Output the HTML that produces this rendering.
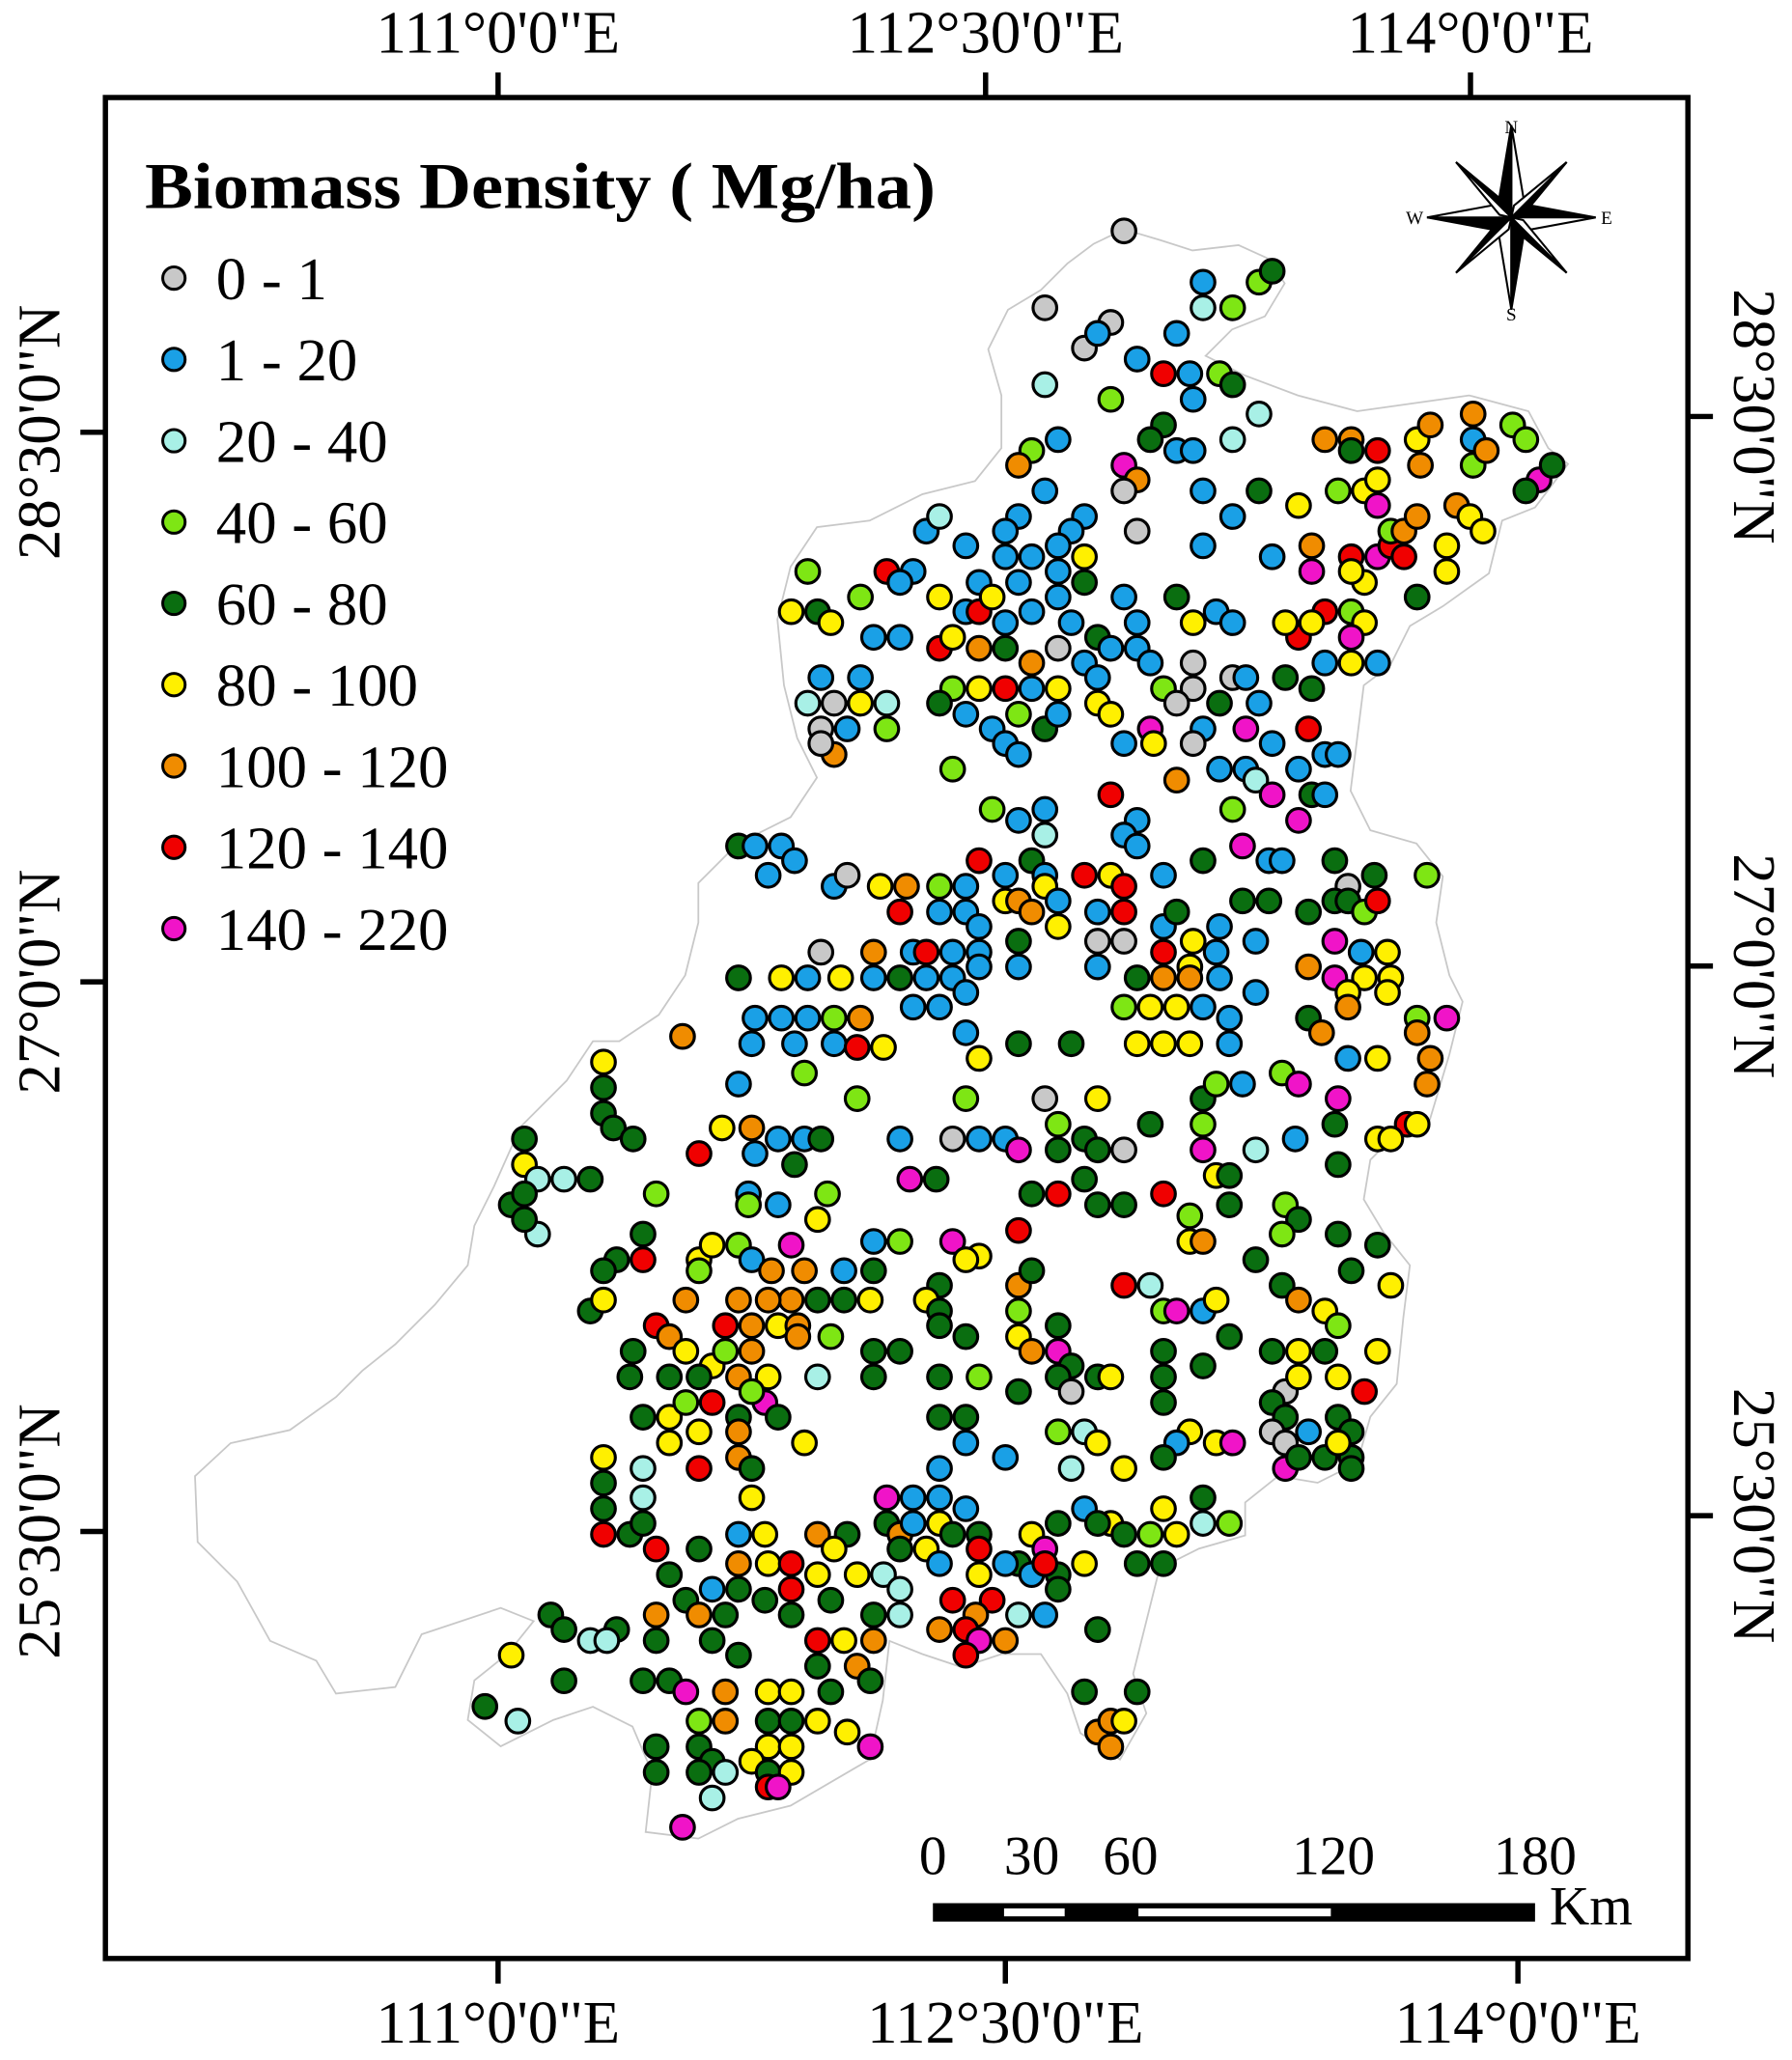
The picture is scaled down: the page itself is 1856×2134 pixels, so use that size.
<!DOCTYPE html>
<html><head><meta charset="utf-8"><style>
html,body{margin:0;padding:0;background:#fff;}
svg{display:block;}
svg text{font-family:"Liberation Serif","Times New Roman",serif;}
</style></head><body>
<svg id="map" width="1856" height="2134" viewBox="0 0 1360 1563" preserveAspectRatio="none" xmlns="http://www.w3.org/2000/svg">
<rect width="1360" height="1563" fill="#fff"/>
<path fill="none" stroke="#c8c8c8" stroke-width="1.3" d="M853,174 L880,182 L905,190 L940,186 L962,196 L975,215 L960,240 L935,250 L915,270 L945,285 L985,300 L1030,312 L1080,305 L1115,300 L1160,312 L1175,340 L1190,352 L1165,385 L1140,395 L1130,435 L1095,460 L1070,475 L1055,505 L1035,520 L1030,560 L1025,600 L1040,630 L1075,640 L1095,665 L1090,700 L1100,740 L1110,760 L1100,800 L1085,850 L1060,860 L1040,880 L1035,910 L1050,935 L1070,960 L1065,1000 L1060,1050 L1040,1075 L1030,1110 L1000,1125 L970,1120 L945,1140 L945,1165 L910,1175 L880,1190 L870,1230 L860,1270 L870,1300 L850,1335 L820,1315 L810,1285 L790,1255 L760,1255 L730,1265 L700,1255 L675,1245 L670,1290 L660,1335 L600,1370 L560,1380 L530,1395 L490,1390 L495,1345 L480,1310 L450,1295 L420,1305 L380,1325 L355,1305 L360,1275 L385,1255 L405,1230 L380,1220 L320,1240 L300,1280 L255,1285 L240,1260 L205,1245 L180,1200 L150,1170 L148,1120 L175,1095 L220,1085 L255,1060 L275,1040 L300,1020 L330,990 L355,960 L360,930 L375,900 L395,855 L430,820 L450,790 L470,790 L500,770 L520,740 L530,700 L530,670 L560,640 L600,620 L620,590 L605,560 L595,520 L590,470 L600,430 L620,400 L660,395 L700,375 L740,365 L760,340 L760,300 L750,265 L765,235 L790,220 L810,200 L830,185 Z"/>
<g id="dots"></g>
<rect x="80" y="74" width="1201" height="1412" fill="none" stroke="#000" stroke-width="4"/>
<g stroke="#000" stroke-width="4">
<line x1="378" y1="55" x2="378" y2="74"/><line x1="748" y1="55" x2="748" y2="74"/><line x1="1116" y1="55" x2="1116" y2="74"/>
<line x1="378" y1="1486" x2="378" y2="1505"/><line x1="763" y1="1486" x2="763" y2="1505"/><line x1="1152" y1="1486" x2="1152" y2="1505"/>
<line x1="61" y1="328" x2="80" y2="328"/><line x1="61" y1="745" x2="80" y2="745"/><line x1="61" y1="1162" x2="80" y2="1162"/>
<line x1="1281" y1="316" x2="1300" y2="316"/><line x1="1281" y1="733" x2="1300" y2="733"/><line x1="1281" y1="1150" x2="1300" y2="1150"/>
</g>
<g font-size="46" fill="#000">
<text x="378" y="40" text-anchor="middle">111°0'0"E</text>
<text x="748" y="40" text-anchor="middle">112°30'0"E</text>
<text x="1116" y="40" text-anchor="middle">114°0'0"E</text>
<text x="378" y="1550" text-anchor="middle">111°0'0"E</text>
<text x="763" y="1550" text-anchor="middle">112°30'0"E</text>
<text x="1152" y="1550" text-anchor="middle">114°0'0"E</text>
<text transform="translate(45,328) rotate(-90)" text-anchor="middle">28°30'0"N</text>
<text transform="translate(45,745) rotate(-90)" text-anchor="middle">27°0'0"N</text>
<text transform="translate(45,1162) rotate(-90)" text-anchor="middle">25°30'0"N</text>
<text transform="translate(1316,316) rotate(90)" text-anchor="middle">28°30'0"N</text>
<text transform="translate(1316,733) rotate(90)" text-anchor="middle">27°0'0"N</text>
<text transform="translate(1316,1150) rotate(90)" text-anchor="middle">25°30'0"N</text>
</g>
<text x="110" y="158" font-size="50" font-weight="bold" textLength="600" lengthAdjust="spacingAndGlyphs">Biomass Density ( Mg/ha)</text>
<g id="legend"></g>
<g transform="translate(1147,165)">
<g stroke="#000" stroke-width="1.5">
<polygon points="0,-70 10,-10 0,0" fill="#fff"/><polygon points="0,-70 -10,-10 0,0" fill="#000"/>
<polygon points="0,70 -10,10 0,0" fill="#fff"/><polygon points="0,70 10,10 0,0" fill="#000"/>
<polygon points="64,0 10,-10 0,0" fill="#000"/><polygon points="64,0 10,10 0,0" fill="#fff"/>
<polygon points="-64,0 -10,10 0,0" fill="#000"/><polygon points="-64,0 -10,-10 0,0" fill="#fff"/>
<polygon points="42,-42 9,-2 0,0" fill="#000"/><polygon points="42,-42 2,-9 0,0" fill="#fff"/>
<polygon points="-42,-42 -2,-9 0,0" fill="#000"/><polygon points="-42,-42 -9,-2 0,0" fill="#fff"/>
<polygon points="42,42 2,9 0,0" fill="#000"/><polygon points="42,42 9,2 0,0" fill="#fff"/>
<polygon points="-42,42 -9,2 0,0" fill="#000"/><polygon points="-42,42 -2,9 0,0" fill="#fff"/>
</g>
<text x="0" y="-64" font-size="14" text-anchor="middle">N</text>
<text x="0" y="78" font-size="14" text-anchor="middle">S</text>
<text x="68" y="5" font-size="14">E</text>
<text x="-80" y="5" font-size="14">W</text>
</g>
<g>
<rect x="708" y="1444" width="457" height="14" fill="#000"/>
<rect x="762" y="1448" width="46" height="6" fill="#fff"/>
<rect x="864" y="1448" width="146" height="6" fill="#fff"/>
<g font-size="42" text-anchor="middle">
<text x="708" y="1422">0</text><text x="783" y="1422">30</text><text x="858" y="1422">60</text><text x="1012" y="1422">120</text><text x="1165" y="1422">180</text>
</g>
<text x="1176" y="1460" font-size="42">Km</text>
</g>
</svg>
<script>
const classLabels=["0 - 1","1 - 20","20 - 40","40 - 60","60 - 80","80 - 100","100 - 120","120 - 140","140 - 220"];
const classColors=["#c8c8c8","#1aa0e6","#a8f0e6","#7ee614","#0a6e10","#fff000","#f08c00","#f00000","#f014c8"];
const lonTicks=[111,112.5,114];
const latTicks=[28.5,27,25.5];
// [lon, lat, biomass class]
const sites=[
[112.90,29.05,0],[112.66,28.84,0],[112.86,28.80,0],[112.78,28.73,0],[113.14,28.91,1],[113.31,28.91,3],[113.35,28.94,4],[113.14,28.84,2],[113.23,28.84,3],[112.82,28.77,1],
[112.94,28.70,1],[113.06,28.77,1],[113.02,28.66,7],[113.10,28.66,1],[113.19,28.66,3],[113.23,28.63,4],[112.66,28.63,2],[112.86,28.59,3],[113.11,28.59,1],[113.31,28.55,2],
[112.70,28.48,1],[112.62,28.45,3],[112.58,28.41,6],[113.02,28.52,4],[112.98,28.48,4],[113.06,28.45,1],[113.11,28.45,1],[113.23,28.48,2],[112.90,28.41,8],[112.94,28.37,6],
[112.90,28.34,0],[113.31,28.34,4],[113.14,28.34,1],[113.23,28.27,1],[113.14,28.19,1],[113.35,28.16,1],[112.94,28.23,0],
[112.66,28.34,1],[112.78,28.27,1],[112.74,28.23,1],[112.58,28.27,1],[112.54,28.23,1],[112.42,28.19,1],[112.30,28.23,1],[112.34,28.27,2],
[112.54,28.16,1],[112.62,28.16,1],[112.70,28.19,1],[112.78,28.16,5],[112.46,28.09,1],[112.58,28.09,1],[112.70,28.12,1],[112.78,28.09,4],
[112.26,28.12,1],[112.18,28.12,7],[112.22,28.09,1],[112.10,28.05,3],[111.94,28.12,3],[111.89,28.01,5],[111.97,28.01,4],[112.01,27.98,5],
[112.14,27.94,1],[112.22,27.94,1],[112.34,28.05,5],[112.42,28.01,1],[112.46,28.01,7],[112.50,28.05,5],[112.54,27.98,1],[112.62,28.01,1],[112.70,28.05,1],[112.74,27.98,1],[112.82,27.94,4],[112.90,28.05,1],[112.94,27.98,1],[113.06,28.05,4],[113.11,27.98,5],[113.18,28.01,1],[113.23,27.98,1],
[112.34,27.91,7],[112.38,27.94,5],[112.46,27.91,6],[112.54,27.91,4],[112.62,27.87,6],[112.70,27.91,0],[112.78,27.87,1],[112.86,27.91,1],[112.94,27.91,1],[112.98,27.87,1],
[112.38,27.80,3],[112.46,27.80,5],[112.54,27.80,7],[112.62,27.80,1],[112.70,27.80,5],[112.82,27.83,1],[113.02,27.80,3],[113.11,27.87,0],[113.11,27.80,0],[113.23,27.83,0],[113.27,27.83,1],[113.39,27.83,4],
[111.98,27.83,1],[112.10,27.83,1],[111.94,27.76,2],[112.02,27.76,0],[112.10,27.76,5],[112.18,27.76,2],[112.06,27.69,1],[111.98,27.69,0],[112.18,27.69,3],[112.02,27.62,6],[111.98,27.65,0],
[112.34,27.76,4],[112.42,27.73,1],[112.50,27.69,1],[112.58,27.73,3],[112.66,27.69,4],[112.70,27.73,1],[112.82,27.76,5],[112.86,27.73,5],[112.98,27.69,8],[113.06,27.76,0],[113.14,27.69,1],[113.19,27.76,4],[113.27,27.69,8],[113.31,27.76,1],[113.35,27.65,1],[113.46,27.69,7],
[112.38,27.58,3],[112.54,27.65,1],[112.58,27.62,1],[112.90,27.65,1],[112.99,27.65,5],[113.11,27.65,0],[113.19,27.58,1],[113.27,27.58,1],[113.43,27.58,1],[113.51,27.62,1],[113.55,27.62,1],
[113.06,27.55,6],[112.86,27.51,7],[113.30,27.55,2],[113.35,27.51,8],[113.23,27.47,3],[113.47,27.51,4],[113.51,27.51,1],[113.43,27.44,8],[112.50,27.47,3],[112.58,27.44,1],[112.66,27.47,1],[112.66,27.40,2],[112.94,27.44,1],[112.90,27.40,1],[112.94,27.37,1],
[113.51,28.48,6],[113.59,28.48,6],[113.59,28.45,4],[113.67,28.45,7],[113.79,28.48,5],[113.83,28.52,6],[113.96,28.55,6],[113.96,28.48,1],[114.08,28.52,3],[114.12,28.48,3],
[113.80,28.41,6],[113.96,28.41,3],[114.00,28.45,6],[114.16,28.37,8],[114.20,28.41,4],[114.12,28.34,4],[113.55,28.34,3],[113.63,28.34,5],[113.67,28.37,5],[113.67,28.30,8],
[113.43,28.30,5],[113.47,28.19,6],[113.47,28.12,8],[113.59,28.16,7],[113.67,28.16,8],[113.71,28.19,7],[113.75,28.16,7],[113.71,28.23,3],[113.75,28.23,6],[113.79,28.27,6],
[113.91,28.30,6],[113.95,28.27,5],[113.99,28.23,5],[113.88,28.19,5],[113.88,28.12,5],[113.79,28.05,4],[113.63,28.09,5],[113.59,28.01,3],[113.63,27.98,5],[113.51,28.01,7],
[113.59,27.94,8],[113.67,27.87,1],[113.43,27.94,7],[113.39,27.98,5],[113.47,27.98,5],[113.59,27.87,5],[113.51,27.87,1],[113.47,27.80,4],[113.59,28.12,5],
[111.73,27.37,4],[111.78,27.37,1],[111.86,27.37,1],[111.82,27.29,1],[111.90,27.33,1],[112.02,27.26,1],[112.06,27.29,0],[111.98,27.08,0],
[112.16,27.26,5],[112.24,27.26,6],[112.34,27.26,3],[112.42,27.26,1],[112.46,27.33,7],[112.54,27.29,1],[112.62,27.33,4],[112.66,27.29,1],[112.66,27.26,5],[112.78,27.29,7],[112.86,27.29,5],[112.90,27.26,7],[113.02,27.29,1],[113.14,27.33,4],[113.26,27.37,8],[113.34,27.33,1],[113.38,27.33,1],[113.54,27.33,4],[113.58,27.26,0],[113.66,27.29,4],[113.82,27.29,3],
[112.22,27.19,7],[112.34,27.19,1],[112.42,27.19,1],[112.46,27.15,1],[112.54,27.22,5],[112.58,27.22,6],[112.62,27.19,6],[112.70,27.22,1],[112.82,27.19,1],[112.90,27.19,7],[113.02,27.15,1],[113.06,27.19,4],[113.11,27.11,5],[113.19,27.15,1],[113.26,27.22,4],[113.34,27.22,4],[113.46,27.19,4],[113.54,27.22,4],[113.58,27.22,4],[113.63,27.19,3],[113.67,27.22,7],
[112.14,27.08,6],[112.26,27.08,1],[112.30,27.08,7],[112.38,27.08,1],[112.46,27.08,1],[112.58,27.11,4],[112.70,27.15,5],[112.82,27.11,0],[112.90,27.11,0],[113.02,27.08,7],[113.10,27.04,5],[113.18,27.08,1],[113.30,27.11,1],[113.54,27.11,8],[113.62,27.08,1],[113.70,27.08,5],
[111.73,27.01,4],[111.86,27.01,5],[111.94,27.01,1],[112.04,27.01,5],[112.14,27.01,1],[112.22,27.01,4],[112.30,27.01,1],[112.38,27.01,1],[112.46,27.04,1],[112.58,27.04,1],[112.82,27.04,1],[112.94,27.01,4],[113.02,27.01,6],[113.10,27.01,6],[113.19,27.01,1],[113.46,27.04,6],[113.54,27.01,8],[113.63,27.01,5],[113.71,27.01,5],
[112.34,26.93,1],[112.42,26.97,1],[112.26,26.93,1],[111.78,26.90,1],[111.86,26.90,1],[111.94,26.90,1],[112.02,26.90,3],[112.10,26.90,6],[112.90,26.93,3],[112.98,26.93,5],[113.06,26.93,5],[113.14,26.93,1],[113.22,26.90,1],[113.30,26.97,1],[113.46,26.90,4],[113.58,26.97,5],[113.58,26.93,6],[113.70,26.97,5],[113.79,26.90,3],[113.88,26.90,8],
[111.56,26.85,6],[111.77,26.83,1],[111.90,26.83,1],[112.02,26.83,1],[112.09,26.82,7],[112.17,26.82,5],[112.42,26.86,1],[112.46,26.79,5],[112.58,26.83,4],[112.74,26.83,4],[112.94,26.83,5],[113.02,26.83,5],[113.10,26.83,5],[113.22,26.83,1],[113.50,26.86,6],[113.58,26.79,1],[113.67,26.79,5],[113.79,26.86,6],[113.83,26.79,6],
[111.32,26.78,5],[111.32,26.71,4],[111.73,26.72,1],[111.93,26.75,3],[112.09,26.68,3],[112.42,26.68,3],[112.66,26.68,0],[112.82,26.68,5],[113.14,26.68,4],[113.18,26.72,3],[113.26,26.72,1],[113.38,26.75,3],[113.43,26.72,8],[113.55,26.68,8],[113.82,26.72,6],
[111.32,26.64,4],[111.35,26.60,4],[111.41,26.57,4],[111.68,26.60,5],[111.77,26.60,6],[111.85,26.57,1],[111.93,26.57,1],[111.98,26.57,4],[112.22,26.57,1],[112.38,26.57,0],[112.46,26.57,1],[112.54,26.57,1],[112.70,26.61,3],[112.78,26.57,4],[112.98,26.61,4],[113.14,26.61,3],[113.42,26.57,1],[113.54,26.61,4],[113.67,26.57,5],[113.76,26.61,7],[113.79,26.61,5],[113.71,26.57,5],
[111.08,26.57,4],[111.08,26.50,5],[111.12,26.46,2],[111.20,26.46,2],[111.28,26.46,4],[111.04,26.39,4],[111.08,26.42,4],[111.12,26.31,2],[111.08,26.35,4],
[111.61,26.53,7],[111.78,26.53,1],[111.90,26.50,4],[112.25,26.46,8],[112.33,26.46,4],[112.58,26.54,8],[112.70,26.54,4],[112.82,26.54,4],[112.90,26.54,0],[113.14,26.54,8],[113.18,26.47,5],[113.22,26.47,4],[113.30,26.54,2],[113.55,26.50,4],
[111.48,26.42,3],[111.76,26.42,1],[112.00,26.42,3],[112.62,26.42,4],[112.70,26.42,7],[112.78,26.46,4],[112.82,26.39,4],[112.90,26.39,4],[113.02,26.42,7],[113.10,26.36,3],[113.22,26.39,4],[113.39,26.39,3],[113.43,26.35,4],
[111.44,26.31,4],[111.97,26.35,5],[111.76,26.39,3],[111.85,26.39,1],[112.14,26.29,1],[112.22,26.29,3],[112.38,26.29,8],[112.46,26.25,5],[112.58,26.32,7],[113.10,26.29,5],[113.14,26.29,6],[113.38,26.31,3],[113.55,26.31,4],[113.67,26.28,4],
[111.36,26.24,4],[111.44,26.24,7],[111.32,26.21,4],[111.28,26.10,4],[111.32,26.13,5],[111.48,26.06,7],[111.57,26.13,6],[111.61,26.24,5],[111.65,26.28,5],[111.61,26.21,3],[111.73,26.28,3],[111.77,26.24,1],[111.83,26.21,6],[111.89,26.28,8],[111.93,26.21,6],
[111.89,26.13,6],[111.82,26.13,6],[111.73,26.13,6],[111.69,26.06,7],[111.77,26.06,6],[111.85,26.06,5],[111.91,26.06,6],[111.97,26.13,4],[112.05,26.13,4],[112.13,26.13,5],[112.05,26.21,1],[112.14,26.21,4],[112.34,26.17,4],[112.30,26.13,5],[112.34,26.10,4],
[112.42,26.24,5],[112.58,26.17,6],[112.58,26.10,3],[112.62,26.21,4],[112.70,26.06,4],[112.90,26.17,7],[112.98,26.17,2],[113.02,26.10,3],[113.06,26.10,8],[113.14,26.10,1],[113.18,26.13,5],[113.30,26.24,4],[113.38,26.17,4],[113.43,26.13,6],[113.51,26.10,5],[113.55,26.06,3],[113.59,26.21,4],[113.71,26.17,5],
[111.41,25.99,4],[111.52,26.03,6],[111.57,25.99,5],[111.65,25.95,5],[111.69,25.99,3],[111.77,25.99,6],[111.91,26.03,6],[112.01,26.03,3],[112.14,25.99,4],[112.22,25.99,4],[112.34,26.06,4],[112.42,26.03,4],[112.58,26.03,5],[112.62,25.99,6],[112.70,25.99,8],[112.74,25.95,4],[112.82,25.92,4],[113.02,25.99,4],[113.14,25.95,4],[113.22,26.03,4],[113.35,25.99,4],[113.43,25.99,5],[113.51,25.99,4],[113.67,25.99,5],
[111.40,25.92,4],[111.52,25.92,4],[111.61,25.92,4],[111.73,25.92,6],[111.82,25.92,5],[111.97,25.92,2],[112.14,25.92,4],[112.34,25.92,4],[112.46,25.92,3],[112.70,25.92,4],[112.74,25.88,0],[112.86,25.92,5],[113.02,25.92,4],[113.39,25.88,0],[113.43,25.92,5],[113.55,25.92,5],[113.63,25.88,7],
[111.44,25.81,4],[111.52,25.81,5],[111.57,25.85,3],[111.65,25.85,7],[111.73,25.81,4],[111.81,25.85,8],[111.77,25.88,3],[111.85,25.81,4],[112.34,25.81,4],[112.42,25.81,4],[112.58,25.88,4],[113.02,25.85,4],[113.35,25.85,4],[113.39,25.81,4],[113.55,25.81,4],[113.59,25.77,4],
[111.32,25.70,5],[111.44,25.67,2],[111.52,25.74,5],[111.61,25.77,5],[111.73,25.77,6],[111.93,25.74,5],[112.42,25.74,1],[112.70,25.77,3],[112.78,25.77,2],[112.82,25.74,5],[113.10,25.77,5],[113.18,25.74,5],[113.23,25.74,8],[113.35,25.77,0],[113.39,25.74,0],[113.46,25.77,1],[113.51,25.70,4],[113.59,25.70,4],[113.55,25.74,5],[113.06,25.74,1],[113.02,25.70,4],
[111.32,25.63,4],[111.32,25.56,4],[111.44,25.59,2],[111.61,25.67,7],[111.73,25.70,6],[111.77,25.67,4],[111.77,25.59,5],[112.34,25.67,1],[112.54,25.70,1],[112.74,25.67,2],[112.90,25.67,5],[113.39,25.67,8],[113.43,25.70,4],[113.59,25.67,4],
[111.32,25.49,7],[111.40,25.49,4],[111.44,25.52,4],[112.18,25.59,8],[112.26,25.59,1],[112.34,25.59,1],[112.42,25.56,1],[112.78,25.56,1],[112.86,25.52,5],[113.02,25.56,5],[113.14,25.59,4],[113.14,25.52,2],[113.22,25.52,3],
[111.73,25.49,1],[111.81,25.49,5],[111.97,25.49,6],[112.06,25.49,4],[112.18,25.52,4],[112.22,25.49,6],[112.26,25.52,1],[112.34,25.52,5],[112.38,25.49,4],[112.46,25.49,4],[112.62,25.49,5],[112.70,25.52,4],[112.82,25.52,4],[112.90,25.49,4],[112.98,25.49,3],[113.06,25.49,5],
[111.48,25.45,7],[111.61,25.45,4],[111.73,25.41,6],[111.82,25.41,5],[111.89,25.41,7],[112.02,25.45,5],[112.22,25.45,4],[112.30,25.45,5],[112.46,25.45,7],[112.58,25.41,4],[112.66,25.45,8],[112.70,25.38,4],[112.78,25.41,5],[112.94,25.41,4],[113.02,25.41,4],
[111.52,25.38,4],[111.65,25.34,1],[111.73,25.34,4],[111.89,25.34,7],[111.97,25.38,5],[112.09,25.38,5],[112.17,25.38,2],[112.22,25.34,2],[112.34,25.41,1],[112.46,25.38,5],[112.54,25.41,1],[112.62,25.38,1],[112.70,25.34,4],[112.66,25.41,7],
[111.16,25.27,4],[111.20,25.23,4],[111.28,25.20,2],[111.36,25.23,4],[111.33,25.20,2],[111.48,25.27,6],[111.57,25.31,4],[111.61,25.27,6],[111.69,25.27,4],[111.81,25.31,4],[111.89,25.27,4],[112.01,25.31,4],[112.14,25.27,4],[112.22,25.27,2],[112.38,25.31,7],[112.50,25.31,7],[112.58,25.27,2],[112.66,25.27,1],[112.82,25.23,4],[112.45,25.27,6],
[111.04,25.16,5],[111.20,25.09,4],[111.48,25.20,4],[111.65,25.20,4],[111.73,25.16,4],[111.97,25.20,7],[112.05,25.20,5],[112.14,25.20,6],[112.34,25.23,6],[112.42,25.23,7],[112.46,25.20,8],[112.54,25.20,6],[112.42,25.16,7],[111.97,25.13,4],[112.09,25.13,6],
[110.96,25.02,4],[111.06,24.98,2],[111.44,25.09,4],[111.52,25.09,4],[111.57,25.06,8],[111.69,25.06,6],[111.82,25.06,5],[111.89,25.06,5],[112.01,25.06,4],[112.13,25.09,4],[112.78,25.06,4],[112.94,25.06,4],
[111.61,24.98,3],[111.69,24.98,6],[111.82,24.98,4],[111.89,24.98,4],[111.97,24.98,5],[112.06,24.95,5],[112.13,24.91,8],[112.82,24.95,6],[112.86,24.98,6],[112.90,24.98,5],[112.86,24.91,6],
[111.48,24.91,4],[111.61,24.91,4],[111.65,24.87,4],[111.82,24.91,5],[111.89,24.91,5],[111.77,24.87,5],[111.48,24.84,4],[111.61,24.84,4],[111.69,24.84,2],[111.82,24.84,4],[111.89,24.84,5],[111.65,24.77,2],[111.82,24.80,7],[111.85,24.80,8],[111.56,24.69,8]
];
const xScale=lon=>378+(lon-111)*250;
const yScale=lat=>328+(28.5-lat)*277.8;
const NS="http://www.w3.org/2000/svg";
const dots=document.getElementById('dots');
sites.forEach(s=>{
  const c=document.createElementNS(NS,'circle');
  c.setAttribute('cx',xScale(s[0]));c.setAttribute('cy',yScale(s[1]));c.setAttribute('r',9);
  c.setAttribute('fill',classColors[s[2]]);c.setAttribute('stroke','#000');c.setAttribute('stroke-width',2.3);
  
  
  dots.appendChild(c);
});
const legend=document.getElementById('legend');
classLabels.forEach((lab,i)=>{
  const y=211+i*61.7;
  const c=document.createElementNS(NS,'circle');
  c.setAttribute('cx',132);c.setAttribute('cy',y);c.setAttribute('r',8.5);
  c.setAttribute('fill',classColors[i]);c.setAttribute('stroke','#000');c.setAttribute('stroke-width',2.2);
  
  
  legend.appendChild(c);
  const t=document.createElementNS(NS,'text');
  t.setAttribute('x',164);t.setAttribute('y',y+16);t.setAttribute('font-size',46);
  t.textContent=lab;
  
  
  legend.appendChild(t);
});
</script>
</body></html>
